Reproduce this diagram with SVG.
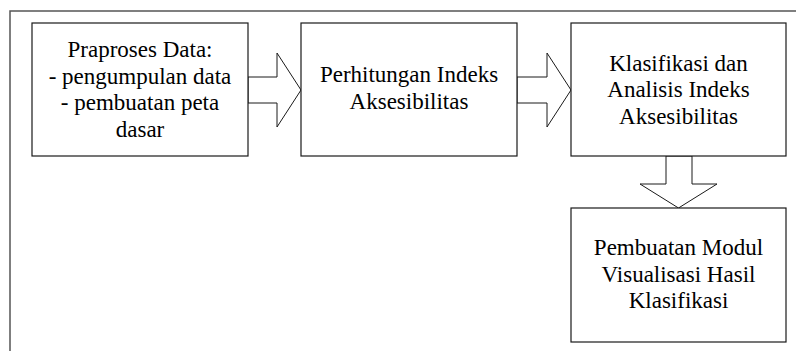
<svg xmlns="http://www.w3.org/2000/svg" width="796" height="351" viewBox="0 0 796 351">
<style>
.box{fill:#fff;stroke:#1a1a1a;stroke-width:1.2}
.arr{fill:#fff;stroke:#1a1a1a;stroke-width:1}
.frame{fill:none;stroke:#555;stroke-width:1.5}
text{font-family:"Liberation Serif","Times New Roman",serif;font-size:23px;fill:#000;text-anchor:middle}
</style>
<rect width="796" height="351" fill="#fff"/>
<path class="frame" d="M10,351 V11 H796"/>
<g id="connectors">
<polygon class="arr" points="248,77 277,77 277,53 301,90 277,127 277,103 248,103"/>
<polygon class="arr" points="517,77 547,77 547,53 571,90 547,127 547,103 517,103"/>
<polygon class="arr" points="666,156 692,156 692,184 717,184 678.5,208 640,184 666,184"/>
</g>
<g id="node1">
<rect class="box" x="32" y="23" width="216" height="133"/>
<text x="140" y="57">Praproses Data:</text>
<text x="140" y="83.5">- pengumpulan data</text>
<text x="140" y="110">- pembuatan peta</text>
<text x="140" y="136.5">dasar</text>
</g>
<g id="node2">
<rect class="box" x="301" y="23" width="216" height="133"/>
<text x="409" y="82">Perhitungan Indeks</text>
<text x="409" y="108.5">Aksesibilitas</text>
</g>
<g id="node3">
<rect class="box" x="571" y="23" width="215" height="133"/>
<text x="678.5" y="70.5">Klasifikasi dan</text>
<text x="678.5" y="97">Analisis Indeks</text>
<text x="678.5" y="123.5">Aksesibilitas</text>
</g>
<g id="node4">
<rect class="box" x="571" y="208" width="215" height="134"/>
<text x="678.5" y="255">Pembuatan Modul</text>
<text x="678.5" y="281.5">Visualisasi Hasil</text>
<text x="678.5" y="308">Klasifikasi</text>
</g>
</svg>
